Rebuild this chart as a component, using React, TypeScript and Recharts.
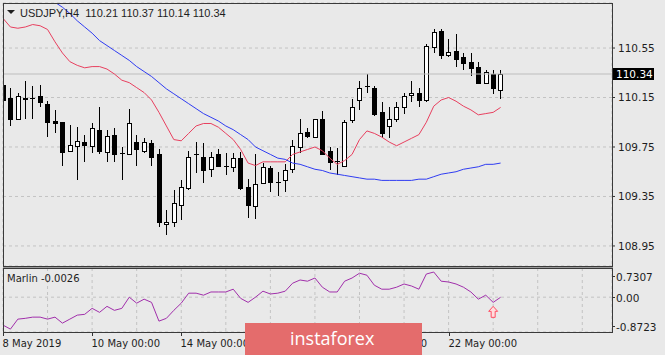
import { ComposedChart, Bar, Line, Scatter, XAxis, YAxis, CartesianGrid, ReferenceLine } from "recharts";

// USDJPY H4, one candle per 4 hours starting 8 May 2019 00:00
const opens = [
  110.25, 110.15, 109.98, 110.15, 110.15, 110.16, 110.1, 109.96, 109.95, 109.72,
  109.76, 109.79, 109.76, 109.89, 109.71, 109.85, 109.7, 109.69, 109.79, 109.72,
  109.78, 109.69, 109.13, 109.14, 109.28, 109.42, 109.69, 109.67, 109.57, 109.69,
  109.6, 109.59, 109.66, 109.43, 109.27, 109.46, 109.58, 109.47, 109.48, 109.57,
  109.75, 109.87, 109.83, 109.98, 109.72, 109.64, 109.6, 109.97, 110.13, 110.24,
  110.23, 110.03, 109.92, 109.98, 110.07, 110.17, 110.19, 110.13, 110.56, 110.69,
  110.49, 110.53, 110.48, 110.44, 110.4, 110.27, 110.34, 110.21,
];
const highs = [
  110.32, 110.23, 110.19, 110.28, 110.24, 110.25, 110.12, 110.05, 109.95, 109.93,
  109.91, 109.85, 109.94, 110.07, 109.89, 109.9, 109.75, 110.06, 109.85, 109.82,
  109.81, 109.73, 109.24, 109.4, 109.48, 109.72, 109.79, 109.78, 109.71, 109.73,
  109.7, 109.7, 109.71, 109.49, 109.69, 109.62, 109.6, 109.55, 109.61, 109.81,
  109.98, 109.9, 109.98, 110.04, 109.75, 109.74, 109.97, 110.14, 110.28, 110.34,
  110.24, 110.11, 110.07, 110.11, 110.19, 110.28, 110.23, 110.58, 110.7, 110.7,
  110.62, 110.66, 110.51, 110.51, 110.44, 110.37, 110.37, 110.37,
];
const lows = [
  110.11, 109.92, 109.97, 109.98, 109.98, 110.07, 109.83, 109.86, 109.6, 109.72,
  109.48, 109.63, 109.7, 109.69, 109.63, 109.63, 109.48, 109.69, 109.6, 109.7,
  109.6, 109.1, 109.04, 109.1, 109.16, 109.4, 109.54, 109.46, 109.51, 109.59,
  109.52, 109.55, 109.4, 109.18, 109.17, 109.45, 109.39, 109.35, 109.39, 109.54,
  109.7, 109.82, 109.82, 109.69, 109.56, 109.52, 109.59, 109.94, 110.05, 110.19,
  110.0, 109.82, 109.82, 109.95, 110.02, 110.11, 110.07, 110.11, 110.51, 110.46,
  110.48, 110.4, 110.37, 110.32, 110.27, 110.27, 110.18, 110.14,
];
const closes = [
  110.13, 109.98, 110.16, 110.14, 110.15, 110.11, 109.95, 109.94, 109.71, 109.77,
  109.8, 109.77, 109.9, 109.72, 109.84, 109.69, 109.7, 109.94, 109.73, 109.79,
  109.67, 109.14, 109.14, 109.3, 109.43, 109.67, 109.69, 109.56, 109.67, 109.6,
  109.6, 109.66, 109.42, 109.28, 109.45, 109.59, 109.47, 109.47, 109.56, 109.76,
  109.86, 109.84, 109.98, 109.69, 109.63, 109.64, 109.95, 110.07, 110.23, 110.24,
  110.02, 109.86, 109.98, 110.07, 110.16, 110.19, 110.13, 110.57, 110.68, 110.49,
  110.52, 110.46, 110.43, 110.39, 110.27, 110.36, 110.23, 110.34,
];
const fastMa = [
  110.79, 110.72, 110.71, 110.72, 110.74, 110.73, 110.7, 110.6, 110.51, 110.44,
  110.41, 110.39, 110.4, 110.4, 110.38, 110.34, 110.29, 110.27, 110.23, 110.19,
  110.13, 110.03, 109.92, 109.81, 109.8, 109.86, 109.92, 109.94, 109.94, 109.91,
  109.86, 109.81, 109.73, 109.62, 109.6, 109.63, 109.63, 109.63, 109.63, 109.69,
  109.71, 109.73, 109.75, 109.72, 109.66, 109.61, 109.64, 109.69, 109.81, 109.88,
  109.86, 109.83, 109.79, 109.76, 109.79, 109.82, 109.85, 109.95, 110.08, 110.13,
  110.15, 110.12, 110.08, 110.05, 110.01, 110.02, 110.03, 110.07,
];
const slowMa = [
  null, null, null, null, null, null, 110.96, 110.92, 110.88, 110.83,
  110.77, 110.72, 110.67, 110.61, 110.57, 110.53, 110.49, 110.45, 110.4, 110.36,
  110.32, 110.27, 110.22, 110.18, 110.14, 110.1, 110.06, 110.02, 109.99, 109.96,
  109.92, 109.89, 109.85, 109.81, 109.75, 109.72, 109.69, 109.66, 109.65, 109.62,
  109.61, 109.59, 109.57, 109.56, 109.54, 109.53, 109.52, 109.51, 109.5, 109.49,
  109.49, 109.48, 109.48, 109.48, 109.48, 109.48, 109.49, 109.49, 109.51, 109.53,
  109.54, 109.55, 109.57, 109.58, 109.59, 109.61, 109.61, 109.62,
];
const marlin = [
  -0.7, -0.8, -0.55, -0.53, -0.5, -0.5, -0.55, -0.5, -0.65, -0.55,
  -0.45, -0.43, -0.28, -0.38, -0.23, -0.33, -0.28, 0.0, -0.15, -0.05,
  -0.13, -0.6, -0.53, -0.33, -0.15, 0.1, 0.1, 0.05, 0.13, 0.13,
  0.13, 0.2, -0.03, -0.13, 0.0, 0.15, 0.08, 0.1, 0.15, 0.35,
  0.43, 0.4, 0.48, 0.25, 0.13, 0.13, 0.4, 0.48, 0.6, 0.55,
  0.3, 0.2, 0.2, 0.25, 0.33, 0.28, 0.2, 0.58, 0.63, 0.4,
  0.38, 0.33, 0.25, 0.13, -0.05, 0.05, -0.13, -0.0026,
];
const arrowSignal = [{ i: 66, arrow: -0.38 }];

const priceTicks = [108.95, 109.35, 109.75, 110.15, 110.55];
const marlinTicks = [-0.8723, 0, 0.7307];
const gridIdx = [0, 6, 12, 18, 24, 30, 36, 42, 48, 54, 60, 66, 72, 78];
const dateIdx = [0, 12, 24, 36, 48, 60];
const dateLabels = ["8 May 2019", "10 May 00:00", "14 May 00:00", "16 May 00:00", "20 May 00:00", "22 May 00:00"];

const rows = opens.map((o, i) => ({
  i,
  open: o,
  high: highs[i],
  low: lows[i],
  close: closes[i],
  fast: fastMa[i],
  slow: slowMa[i],
  marlin: marlin[i],
}));
const last = closes[closes.length - 1];
const FONT = "DejaVu Sans";

function Candle(props: any) {
  const { x, y, width, height, payload } = props;
  if (x == null || !payload) return null;
  const { open, close, high, low } = payload;
  const top = Math.min(y, y + height);
  const span = Math.abs(height);
  const k = high === low ? 0 : span / (high - low);
  const py = (v: number) => top + (high - v) * k;
  const cx = Math.round(x + width / 2);
  const bTop = Math.round(py(Math.max(open, close)));
  const bBot = Math.round(py(Math.min(open, close)));
  return (
    <g>
      <line x1={cx + 0.5} x2={cx + 0.5} y1={Math.round(top)} y2={Math.round(top + span)} stroke="#000" />
      {bBot - bTop < 1 ? (
        <line x1={cx - 2} x2={cx + 3} y1={bTop + 0.5} y2={bTop + 0.5} stroke="#000" />
      ) : (
        <rect x={cx - 1.5} y={bTop + 0.5} width={4} height={bBot - bTop} fill={close > open ? "#fff" : "#000"} stroke="#000" />
      )}
    </g>
  );
}

function PriceTag(props: any) {
  const vb = props.viewBox;
  if (!vb) return null;
  const x = vb.x + vb.width + 1;
  const y = Math.round(vb.y);
  return (
    <g>
      <rect x={x} y={y - 6} width={41} height={12} fill="#000" />
      <text x={x + 3} y={y + 4} fill="#fff" fontSize={10.5} fontFamily={FONT}>
        {last.toFixed(2)}
      </text>
    </g>
  );
}

function DateTick(props: any) {
  const { x, y, payload } = props;
  const k = dateIdx.indexOf(payload.value);
  if (k < 0) return <g />;
  const px = Math.round(x) + 0.5;
  return (
    <g>
      <line x1={px} x2={px} y1={y} y2={y + 4} stroke="#333" />
      <text x={px - 1} y={y + 15} fontSize={10} fontFamily={FONT} fill="#1e1e1e">
        {dateLabels[k]}
      </text>
    </g>
  );
}

function MarlinTick(props: any) {
  const { x, y, payload } = props;
  const v = payload.value;
  const shift = v > 0.5 ? 8 : v < -0.5 ? -6 : 0;
  const ty = Math.round(y + shift) + 0.5;
  return (
    <g>
      <line x1={x} x2={x + 3} y1={ty} y2={ty} stroke="#333" />
      <text x={x + 4} y={ty + 4} fontSize={10.5} fontFamily={FONT} fill="#1e1e1e">
        {v === 0 ? "0.00" : v.toFixed(4)}
      </text>
    </g>
  );
}

function UpArrow(props: any) {
  const { cx, cy } = props;
  if (cx == null) return null;
  const d = `M${cx} ${cy - 6} L${cx + 4.5} ${cy - 1} L${cx + 2} ${cy - 1} L${cx + 2} ${cy + 5} L${cx - 2} ${cy + 5} L${cx - 2} ${cy - 1} L${cx - 4.5} ${cy - 1} Z`;
  return <path d={d} fill="#ffdede" stroke="#ff4d63" strokeWidth={1} />;
}

export default function App() {
  return (
    <div style={{ position: "absolute", left: 0, top: 0, width: 665, height: 355, background: "#e9e9e9", overflow: "hidden" }}>
      <div style={{ position: "absolute", left: 0, top: 0 }}>
        <ComposedChart width={665} height={267} data={rows} margin={{ top: 3, right: 0, left: 3, bottom: 1 }}>
          <CartesianGrid stroke="#c3c3c3" strokeDasharray="3 3" />
          <XAxis type="number" dataKey="i" domain={[0, 82]} ticks={gridIdx} allowDataOverflow height={0} tick={false} axisLine={false} tickLine={false} />
          <YAxis
            orientation="right"
            domain={[108.788, 110.914]}
            ticks={priceTicks}
            interval={0}
            allowDataOverflow
            width={53}
            axisLine={false}
            tickSize={3}
            tickMargin={3}
            tickLine={{ stroke: "#333" }}
            tick={{ fill: "#1e1e1e", fontSize: 10.5, fontFamily: FONT }}
            tickFormatter={(v: number) => v.toFixed(2)}
          />
          <ReferenceLine y={last} stroke="#bdbdbd" label={<PriceTag />} />
          <Bar dataKey={(d: any) => [d.low, d.high]} shape={<Candle />} barSize={5} isAnimationActive={false} />
          <Line dataKey="fast" stroke="#e8405f" strokeWidth={1} dot={false} activeDot={false} isAnimationActive={false} />
          <Line dataKey="slow" stroke="#2f3cf2" strokeWidth={1} dot={false} activeDot={false} isAnimationActive={false} />
        </ComposedChart>
      </div>
      <div style={{ position: "absolute", left: 0, top: 265 }}>
        <ComposedChart width={665} height={90} data={rows} margin={{ top: 3, right: 0, left: 3, bottom: 0 }}>
          <CartesianGrid stroke="#c3c3c3" strokeDasharray="3 3" />
          <XAxis
            type="number"
            dataKey="i"
            domain={[0, 82]}
            ticks={gridIdx}
            interval={0}
            allowDataOverflow
            height={23}
            axisLine={false}
            tickLine={false}
            tickSize={0}
            tickMargin={0}
            tick={<DateTick />}
          />
          <YAxis
            orientation="right"
            domain={[-0.8723, 0.7307]}
            ticks={marlinTicks}
            interval={0}
            allowDataOverflow
            width={53}
            axisLine={false}
            tickLine={false}
            tickSize={0}
            tickMargin={0}
            tick={<MarlinTick />}
          />
          <Line dataKey="marlin" stroke="#a12fab" strokeWidth={1} dot={false} activeDot={false} isAnimationActive={false} />
          <Scatter data={arrowSignal} dataKey="arrow" shape={<UpArrow />} isAnimationActive={false} />
        </ComposedChart>
      </div>
      <svg width={665} height={355} style={{ position: "absolute", left: 0, top: 0, pointerEvents: "none" }}>
        <rect x={3.5} y={3.5} width={609} height={263} fill="none" stroke="#3a3a3a" />
        <line x1={3} x2={613} y1={267.5} y2={267.5} stroke="#9a9a9a" />
        <rect x={3.5} y={268.5} width={609} height={64} fill="none" stroke="#3a3a3a" />
        <path d="M7 10 L15 10 L11 14 Z" fill="#1e1e1e" />
        <text x={20} y={17} fontSize={11} fontFamily="Liberation Sans" fill="#1e1e1e" xmlSpace="preserve">
          {"USDJPY,H4  110.21 110.37 110.14 110.34"}
        </text>
        <text x={7} y={282} fontSize={10} fontFamily={FONT} fill="#1e1e1e">
          Marlin -0.0026
        </text>
        <rect x={245} y={323} width={177} height={32} fill="#e46c6c" />
        <text x={290} y={345} fontSize={18} fontFamily="Open Sans" fill="#fff">
          instaforex
        </text>
      </svg>
    </div>
  );
}
